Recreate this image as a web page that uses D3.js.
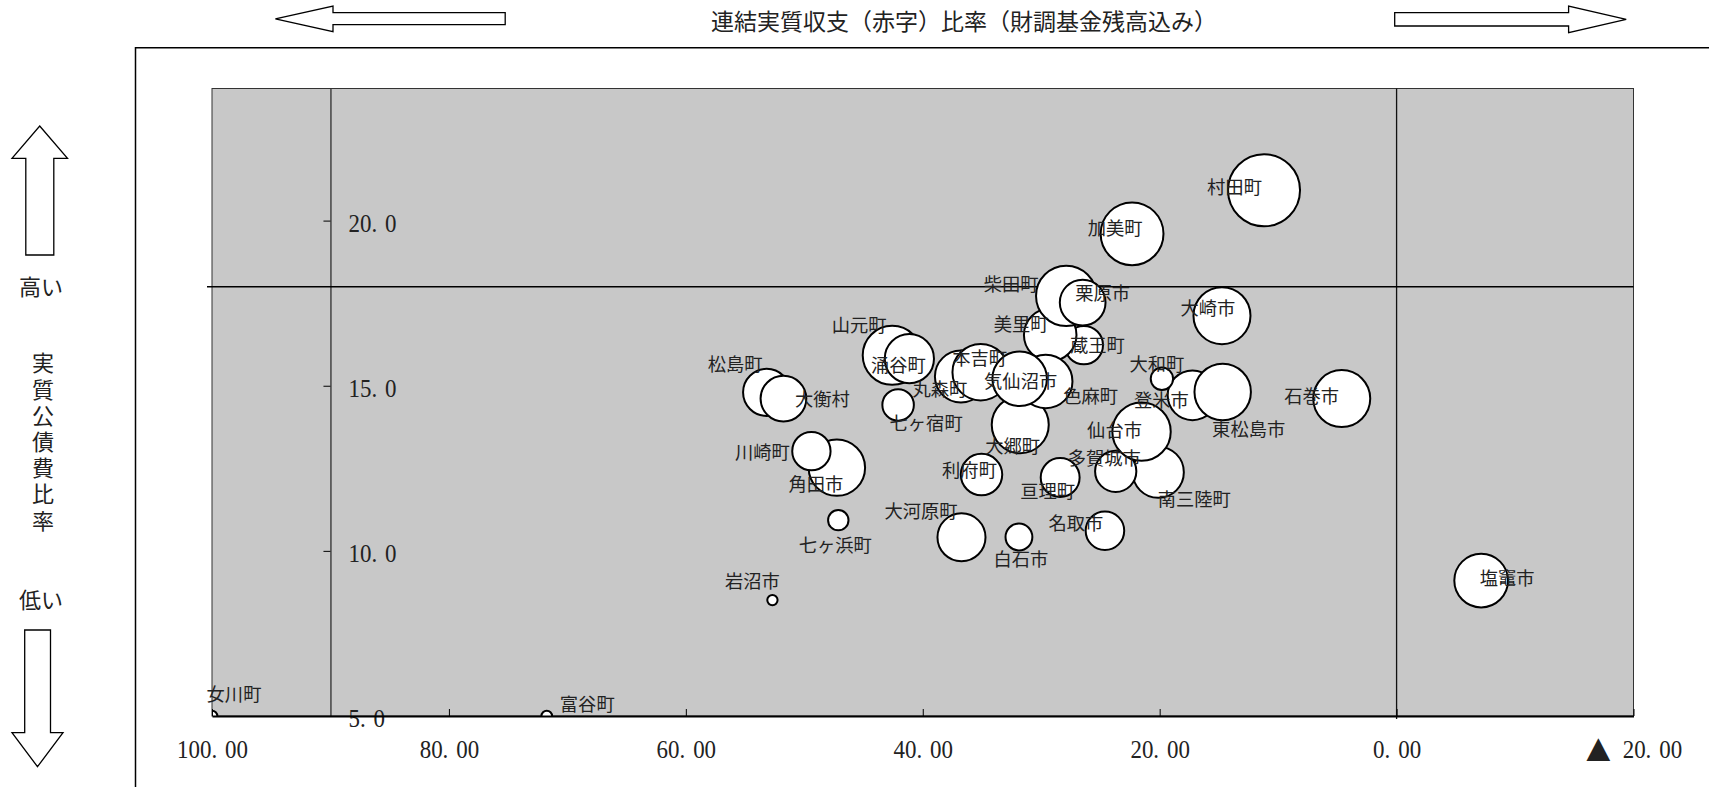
<!DOCTYPE html>
<html><head><meta charset="utf-8">
<script src="https://cdn.jsdelivr.net/npm/d3@7"></script>
<style>
html,body{margin:0;padding:0;background:#fff;overflow:hidden}
svg{display:block}
</style></head><body>
<svg id="chart" width="1709" height="787"></svg>
<script>
// ---- data (draw order = stacking order) ----
const names = ["蔵王町","美里町","柴田町","栗原市","大崎市","村田町","加美町",
  "山元町","涌谷町","松島町","大衡村","丸森町","本吉町","大郷町","色麻町","気仙沼市",
  "角田市","川崎町","七ヶ宿町","七ヶ浜町","利府町","大河原町","白石市","亘理町",
  "南三陸町","多賀城市","仙台市","名取市","登米市","東松島市","大和町","石巻市",
  "塩竈市","岩沼市","女川町","富谷町"];
// 連結実質収支（赤字）比率（財調基金残高込み）
const xValues = [26.40,29.24,27.89,26.50,14.74,11.19,22.33,
  42.58,41.13,53.18,51.76,36.78,35.11,31.77,29.62,31.82,
  47.25,49.40,42.08,47.13,35.04,36.73,31.88,28.40,
  20.12,23.71,21.53,24.62,17.23,14.68,19.81,4.63,
  -7.14,52.69,100,71.74];
// 実質公債費比率
const yValues = [16.23,16.54,17.72,17.52,17.12,20.92,19.60,
  15.92,15.82,14.80,14.61,15.28,15.41,13.82,15.13,15.21,
  12.52,13.02,14.42,10.93,12.31,10.41,10.42,12.22,
  12.38,12.41,13.61,10.61,14.71,14.81,15.21,14.61,
  9.10,8.51,5.0,5.0];
// bubble size
const bubbleSizes = [56.7,106.5,140.4,80.7,125.4,200,152.4,
  134.1,93.5,85.6,80.7,104.1,122.9,125.4,110.5,114.5,
  122.9,56.7,38.3,16.1,66.3,89.1,27.8,58.4,
  101.1,65.7,131.5,57.3,95.0,122.9,19.3,125.4,
  111.3,4.1,4.4,4.4];
// label nudges (layout only, px relative to bubble centre)
const labelNudge = [[13.5,-1],[-29,-12],[-55,-12.7],[20,-11],[-14,-9],[-29.5,-4.6],[-17,-6.5],
  [-33,-31],[-11,5],[-31.5,-29],[39,-1],[-21,12],[-1,-15.5],[-7.5,20],[45,13.5],[1,1],
  [-21,15],[-49,0],[28,17],[-3,24],[-12,-6],[-40.5,-27],[2,21],[-12.5,12],
  [36,26],[-11.5,-14.5],[-27,-3],[-29,-9],[-31,4],[26,36],[-5,-15.5],[-30,-4],
  [26,-4],[-20,-20],[22,-22.7],[40.5,-13.3]];

const xTicks = [100,80,60,40,20,0,-20];
const yTicks = [5,10,15,20];
const xDomain = [100,-20];
const yDomain = [5,24];
const sizeDomainMax = 200;
const xTitle = "連結実質収支（赤字）比率（財調基金残高込み）";
const yTitle = "実質公債費比率";
const highLabel = "高い", lowLabel = "低い";
const thresholdY = 18;
const thresholdX = 0;
const yAxisCross = 90;

// ---- layout ----
const plot = {left:212, right:1633.5, top:88.5, bottom:716};
const svg = d3.select("#chart");
const x = d3.scaleLinear().domain(xDomain).range([plot.left, plot.right]);
const y = d3.scaleLinear().domain(yDomain).range([plot.bottom, plot.top]);
const r = d3.scaleSqrt().domain([0,sizeDomainMax]).range([0,36]);
const cjk = '"Noto Sans CJK JP","Noto Sans CJK SC",sans-serif';
const numFont = '"Liberation Serif","DejaVu Serif",serif';
const textCol = "#222";

svg.append("rect").attr("width",1709).attr("height",787).attr("fill","#fff");

// outer frame
svg.append("path").attr("d","M135.5,787V47.7H1709").attr("fill","none")
  .attr("stroke","#000").attr("stroke-width",1.5);

// plot area
svg.append("rect").attr("x",plot.left).attr("y",plot.top)
  .attr("width",plot.right-plot.left).attr("height",plot.bottom-plot.top)
  .attr("fill","#c8c8c8").attr("stroke","#333").attr("stroke-width",1);

svg.append("defs").append("clipPath").attr("id","pc").append("rect")
  .attr("x",plot.left).attr("y",plot.top)
  .attr("width",plot.right-plot.left).attr("height",plot.bottom-plot.top);

// vertical line at 0
svg.append("line").attr("x1",x(thresholdX)).attr("x2",x(thresholdX))
  .attr("y1",plot.top).attr("y2",plot.bottom+3).attr("stroke","#111").attr("stroke-width",1.3);
// horizontal threshold line at 18
svg.append("line").attr("x1",plot.left-5).attr("x2",plot.right)
  .attr("y1",y(thresholdY)).attr("y2",y(thresholdY)).attr("stroke","#000").attr("stroke-width",1.5);

// number label builder: Mincho-like "100. 00" look, ▲ for negatives
function numLabel(sel, v, decimals) {
  const s = d3.format(`.${decimals}f`)(Math.abs(v));
  const [a, b] = s.split(".");
  sel.text(null);
  if (v < 0) sel.append("tspan").attr("font-family", cjk).attr("font-size", 28).text("▲");
  sel.append("tspan").attr("dx", v < 0 ? 13 : null).text(a + ".");
  sel.append("tspan").attr("dx", 8.8).text(b);
}
function styleNum(sel, tr, anchor) {
  sel.attr("x",null).attr("y",null).attr("dy",null)
    .attr("transform", tr)
    .attr("text-anchor", anchor).attr("dominant-baseline","central")
    .attr("font-family", numFont).attr("font-size", 25.5).attr("fill", textCol);
}

// y axis (crossing at x=90), labels on right side of axis
const yAxisG = svg.append("g").attr("transform",`translate(${x(yAxisCross)},0)`)
  .call(d3.axisLeft(y).tickValues(yTicks).tickSizeInner(7).tickSizeOuter(0));
yAxisG.select(".domain").attr("stroke","#000").attr("stroke-width",1);
yAxisG.selectAll(".tick line").attr("stroke","#000");
yAxisG.selectAll(".tick text").each(function(d){
  const t = d3.select(this);
  styleNum(t, "translate(18,1) scale(0.9,1)", "start");
  numLabel(t, d, 1);
});

// bubbles
const data = names.map((n,i)=>({name:n,x:xValues[i],y:yValues[i],s:bubbleSizes[i],nd:labelNudge[i]}));
svg.append("g").attr("clip-path","url(#pc)").selectAll("circle").data(data).join("circle")
  .attr("cx",d=>x(d.x)).attr("cy",d=>y(d.y)).attr("r",d=>r(d.s))
  .attr("fill","#fff").attr("stroke","#000").attr("stroke-width",2);

// x axis (bottom)
const xAxisG = svg.append("g").attr("transform",`translate(0,${plot.bottom})`)
  .call(d3.axisBottom(x).tickValues(xTicks).tickSizeInner(-7).tickSizeOuter(0));
xAxisG.select(".domain").attr("stroke","#000").attr("stroke-width",2);
xAxisG.selectAll(".tick line").attr("stroke","#000");
xAxisG.selectAll(".tick text").each(function(d){
  const t = d3.select(this);
  styleNum(t, "translate(0,33) scale(0.9,1)", "middle");
  numLabel(t, d, 2);
});

// bubble labels
svg.append("g").selectAll("text").data(data).join("text")
  .attr("x",d=>x(d.x)+d.nd[0]).attr("y",d=>y(d.y)+d.nd[1])
  .attr("text-anchor","middle").attr("dominant-baseline","central")
  .attr("font-family",cjk).attr("font-size",18.3).attr("fill",textCol)
  .text(d=>d.name);

// title + horizontal arrows
svg.append("text").attr("x",964).attr("y",19.6).attr("text-anchor","middle")
  .attr("dominant-baseline","central").attr("font-family",cjk).attr("font-size",23)
  .attr("fill",textCol).text(xTitle);
const arrowStyle = s => s.attr("fill","#fff").attr("stroke","#000").attr("stroke-width",1.3);
svg.append("polygon").attr("points","275.4,18.8 333,6 333,12.7 505.2,12.7 505.2,24.6 333,24.6 333,31.7").call(arrowStyle);
svg.append("polygon").attr("points","1626.2,19.3 1568.6,6 1568.6,12.7 1394.7,12.7 1394.7,26 1568.6,26 1568.6,32.7").call(arrowStyle);

// left side: up/down arrows + vertical title
svg.append("polygon").attr("points","39.7,126 67.5,158.3 53.8,158.3 53.8,255 25.8,255 25.8,158.3 12,158.3").call(arrowStyle);
svg.append("polygon").attr("points","37.5,766.7 63,732.7 50.5,732.7 50.5,630 24.7,630 24.7,732.7 12,732.7").call(arrowStyle);
svg.append("text").attr("x",41).attr("y",285).attr("text-anchor","middle").attr("dominant-baseline","central")
  .attr("font-family",cjk).attr("font-size",22).attr("fill",textCol).text(highLabel);
svg.append("text").attr("x",41).attr("y",598).attr("text-anchor","middle").attr("dominant-baseline","central")
  .attr("font-family",cjk).attr("font-size",22).attr("fill",textCol).text(lowLabel);
svg.append("text").attr("x",43).attr("y",352)
  .style("writing-mode","vertical-rl").style("letter-spacing","4.2px")
  .attr("text-anchor","start")
  .attr("font-family",cjk).attr("font-size",22).attr("fill",textCol).text(yTitle);
</script>
</body></html>
